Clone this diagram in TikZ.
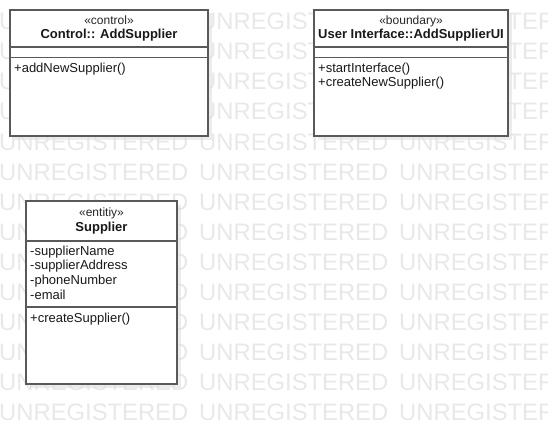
\documentclass[tikz,border=0pt]{standalone}
\usepackage{fontspec}
\setmainfont{Liberation Sans}
\usepackage{tikz}
\usetikzlibrary{shadows}
\colorlet{class edge}{black!65}
\colorlet{mark text}{black!9}
\tikzset{classbox/.style={draw=class edge, line width=1.4pt, fill=white, inner sep=0pt,
        drop shadow={shadow xshift=3.5pt, shadow yshift=-3.5pt, fill=black!12, opacity=0.6}},
    classline/.style={draw=class edge, line width=1.3pt},
    stereo/.style={font=\fontsize{12}{14}\selectfont, text=black!85, anchor=base, inner sep=0pt},
    classname/.style={font=\bfseries\fontsize{13}{15}\selectfont, text=black!90, anchor=base, inner sep=0pt},
    member/.style={font=\fontsize{13}{15}\selectfont, text=black!90, anchor=base west, inner sep=0pt},
    watermark/.style={font=\fontsize{23.8}{24}\selectfont, text=mark text, anchor=base west, inner sep=0pt}}

\begin{document}
\begin{tikzpicture}[x=1pt,y=-1pt]
    \useasboundingbox (0,0) rectangle (548,425);
    % watermark behind everything
    \foreach \r in {0,...,13}
        \foreach \c in {0,1,2}
            \node[watermark] (wm\r\c) at (\c*200-1,30+\r*30) {UNREGISTERED};
    % control class
    \node[classbox, minimum width=198pt, minimum height=126pt] (control) at (109,73) {};
    \node[stereo] (control stereo) at (109,25) {«control»};
    \node[classname] (control name) at (109,39) {Control:: AddSupplier};
    \draw[classline] (control.west |- 0,47) -- (control.east |- 0,47);
    \draw[classline] (control.west |- 0,57.5) -- (control.east |- 0,57.5);
    \node[member] (control op) at (14,73) {+addNewSupplier()};
    % boundary class
    \node[classbox, minimum width=194pt, minimum height=126pt] (ui) at (411,73) {};
    \node[stereo] (ui stereo) at (411,25) {«boundary»};
    \node[classname] (ui name) at (411,39) {User Interface::AddSupplierUI};
    \draw[classline] (ui.west |- 0,47) -- (ui.east |- 0,47);
    \draw[classline] (ui.west |- 0,57.5) -- (ui.east |- 0,57.5);
    \node[member] (ui op1) at (318,73) {+startInterface()};
    \node[member] (ui op2) at (318,87) {+createNewSupplier()};
    % entity class
    \node[classbox, minimum width=151pt, minimum height=183pt] (supplier) at (101.5,292.5) {};
    \node[stereo] (supplier stereo) at (101.5,216) {«entitiy»};
    \node[classname] (supplier name) at (101.5,231) {Supplier};
    \draw[classline] (supplier.west |- 0,241) -- (supplier.east |- 0,241);
    \draw[classline] (supplier.west |- 0,307) -- (supplier.east |- 0,307);
    \node[member] (supplier at1) at (30,255) {-supplierName};
    \node[member] (supplier at2) at (30,269.7) {-supplierAddress};
    \node[member] (supplier at3) at (30,284.3) {-phoneNumber};
    \node[member] (supplier at4) at (30,299) {-email};
    \node[member] (supplier op) at (30,322) {+createSupplier()};
\end{tikzpicture}
\end{document}
